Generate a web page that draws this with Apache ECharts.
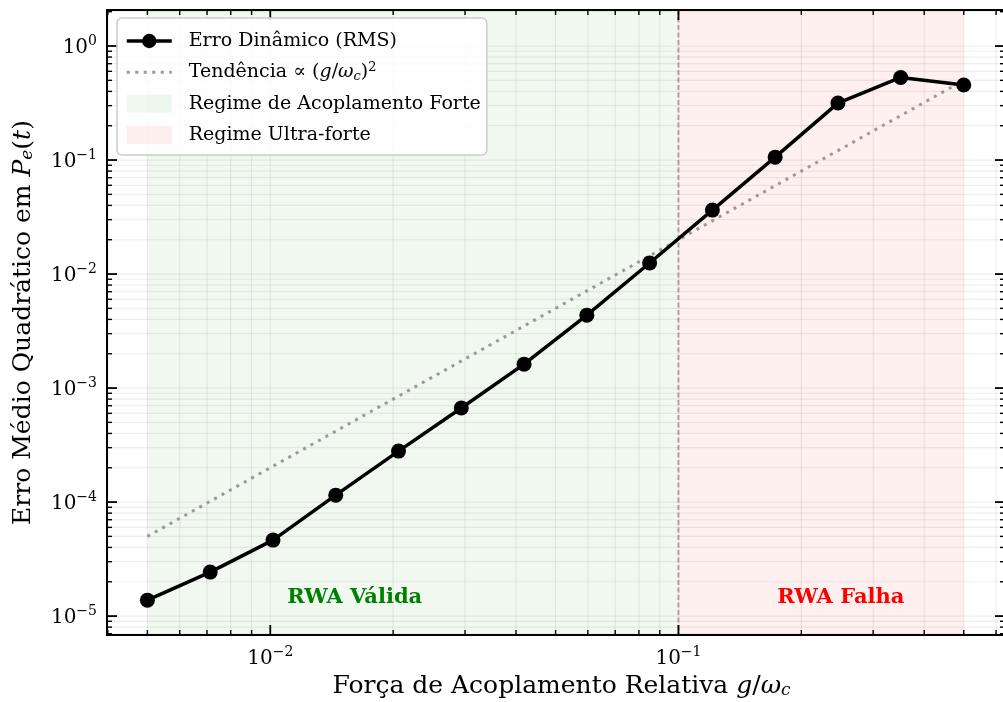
<!DOCTYPE html>
<html><head><meta charset="utf-8">
<script src="https://cdn.jsdelivr.net/npm/echarts@6/dist/echarts.min.js"></script>
<style>html,body{margin:0;padding:0;background:#fff}#c{width:1003px;height:702px}</style>
</head><body><div id="c"></div>
<script>
// ---- data ----
const couplingRatio = [0.005, 0.007126, 0.010155, 0.014468, 0.020616, 0.029375, 0.041857, 0.059642, 0.084984, 0.121093, 0.172546, 0.24586, 0.350325, 0.5];
const rmsError = [1.38e-5, 2.43e-5, 4.64e-5, 1.15e-4, 2.8e-4, 6.68e-4, 1.62e-3, 4.36e-3, 1.25e-2, 3.64e-2, 0.106, 0.316, 0.53, 0.455];
const trendX = [0.005, 0.5];
const trendY = [5e-5, 0.5];
const strongRegime = [0.005, 0.1];
const ultraRegime = [0.1, 0.5];
const annotationX = [0.0161, 0.25];
const annotationY = [1.44e-5, 1.44e-5];
const annotationText = ['RWA Válida', 'RWA Falha'];
const seriesNames = ['Erro Dinâmico (RMS)', 'Tendência ∝ (g/ωc)^2', 'Regime de Acoplamento Forte', 'Regime Ultra-forte'];

const X_MIN = Math.pow(10, -2.4), X_MAX = Math.pow(10, -0.2);
const Y_MIN = Math.pow(10, -5.166), Y_MAX = Math.pow(10, 0.316);
const F = 'DejaVu Serif';

function logTicks(lo, hi) {
  const out = [];
  for (let d = Math.floor(Math.log10(lo)); d <= Math.ceil(Math.log10(hi)); d++) {
    for (let k = 1; k <= 9; k++) {
      const v = k * Math.pow(10, d);
      if (v >= lo * 0.999999 && v <= hi * 1.000001) out.push({ v: v, major: k === 1 });
    }
  }
  return out;
}

function powLabel(v) {
  const e = Math.log10(v);
  const r = Math.round(e);
  if (Math.abs(e - r) > 1e-6) return '';
  return '{b|10}{s|' + (r < 0 ? '−' + (-r) : String(r)) + '}';
}
const labelRich = {
  b: { fontFamily: F, fontSize: 20, color: '#000', lineHeight: 24, verticalAlign: 'bottom' },
  s: { fontFamily: F, fontSize: 14, color: '#000', lineHeight: 16, verticalAlign: 'top' }
};

function renderDecor(params, api) {
  const children = [];
  const p0 = api.coord([X_MIN, Y_MIN]);
  const p1 = api.coord([X_MAX, Y_MAX]);
  const left = p0[0], bottom = p0[1], right = p1[0], top = p1[1];
  const grid = 'rgba(0,0,0,0.065)';
  logTicks(X_MIN, X_MAX).forEach(t => {
    const x = api.coord([t.v, Y_MIN])[0];
    children.push({ type: 'line', shape: { x1: x, y1: top, x2: x, y2: bottom }, style: { stroke: grid, lineWidth: 1.2 } });
  });
  logTicks(Y_MIN, Y_MAX).forEach(t => {
    const y = api.coord([X_MIN, t.v])[1];
    children.push({ type: 'line', shape: { x1: left, y1: y, x2: right, y2: y }, style: { stroke: grid, lineWidth: 1.2 } });
  });
  // boundary dashed line
  const bx = api.coord([ultraRegime[0], Y_MIN])[0];
  children.push({ type: 'line', shape: { x1: bx, y1: top, x2: bx, y2: bottom },
    style: { stroke: 'rgba(128,128,128,0.65)', lineWidth: 2, lineDash: [5, 2.5] } });
  // ticks
  logTicks(X_MIN, X_MAX).forEach(t => {
    const x = api.coord([t.v, Y_MIN])[0];
    const L = t.major ? 10 : 5, w = t.major ? 1.8 : 1.4;
    children.push({ type: 'line', shape: { x1: x, y1: bottom, x2: x, y2: bottom - L }, style: { stroke: '#000', lineWidth: w } });
    children.push({ type: 'line', shape: { x1: x, y1: top, x2: x, y2: top + L }, style: { stroke: '#000', lineWidth: w } });
  });
  logTicks(Y_MIN, Y_MAX).forEach(t => {
    const y = api.coord([X_MIN, t.v])[1];
    const L = t.major ? 10 : 5, w = t.major ? 1.8 : 1.4;
    children.push({ type: 'line', shape: { x1: left, y1: y, x2: left + L, y2: y }, style: { stroke: '#000', lineWidth: w } });
    children.push({ type: 'line', shape: { x1: right, y1: y, x2: right - L, y2: y }, style: { stroke: '#000', lineWidth: w } });
  });
  return { type: 'group', children: children };
}

function renderRegion(params, api) {
  const a = api.coord([api.value(0), Y_MAX]);
  const b = api.coord([api.value(1), Y_MIN]);
  return { type: 'rect', shape: { x: a[0], y: a[1], width: b[0] - a[0], height: b[1] - a[1] },
    style: { fill: api.visual('color') } };
}

const annotationColors = ['#008000', '#ff0000'];
function renderAnnotation(params, api) {
  const p = api.coord([api.value(0), api.value(1)]);
  return { type: 'text', x: p[0], y: p[1],
    style: { text: annotationText[params.dataIndex], fill: annotationColors[params.dataIndex],
      fontFamily: F, fontSize: 21, fontWeight: 'bold', align: 'center', verticalAlign: 'middle' } };
}

const legendRich = {
  n: { fontFamily: F, fontSize: 19, color: '#000' },
  i: { fontFamily: F, fontSize: 19, color: '#000', fontStyle: 'italic' },
  sub: { fontFamily: F, fontSize: 13, color: '#000', fontStyle: 'italic', verticalAlign: 'bottom', lineHeight: 14 },
  sup: { fontFamily: F, fontSize: 13, color: '#000', verticalAlign: 'top', lineHeight: 14 }
};
function legendFormatter(name) {
  if (name === seriesNames[1]) return '{n|Tendência ∝ (}{i|g}{n|/}{i|ω}{sub|c}{n|)}{sup|2}';
  return '{n|' + name + '}';
}

const nameRich = {
  n: { fontFamily: F, fontSize: 25, color: '#000' },
  i: { fontFamily: F, fontSize: 25, color: '#000', fontStyle: 'italic' },
  sub: { fontFamily: F, fontSize: 17, color: '#000', fontStyle: 'italic', verticalAlign: 'bottom' }
};

const chart = echarts.init(document.getElementById('c'), null, { renderer: 'canvas' });
chart.setOption({
  animation: false,
  backgroundColor: '#fff',
  grid: { left: 107, top: 10, width: 898, height: 625, show: true, borderColor: '#000', borderWidth: 2,
    backgroundColor: 'transparent', outerBoundsMode: 'none', containLabel: false },
  xAxis: {
    type: 'log', logBase: 10, min: X_MIN, max: X_MAX,
    axisLine: { show: true, lineStyle: { color: '#000', width: 2 } },
    axisTick: { show: false }, splitLine: { show: false }, minorTick: { show: false },
    axisLabel: { formatter: powLabel, rich: labelRich, margin: 10 },
    name: '{n|Força de Acoplamento Relativa }{i|g}{n|/}{i|ω}{sub|c}',
    nameLocation: 'middle', nameGap: 39,
    nameTextStyle: { rich: nameRich, padding: [0, 0, 0, 11] }
  },
  yAxis: {
    type: 'log', logBase: 10, min: Y_MIN, max: Y_MAX,
    axisLine: { show: true, lineStyle: { color: '#000', width: 2 } },
    axisTick: { show: false }, splitLine: { show: false }, minorTick: { show: false },
    axisLabel: { formatter: powLabel, rich: labelRich, margin: 10 },
    name: '{n|Erro Médio Quadrático em }{i|P}{sub|e}{n|(}{i|t}{n|)}',
    nameLocation: 'middle', nameGap: 71, nameRotate: 90,
    nameTextStyle: { rich: nameRich }
  },
  legend: {
    orient: 'vertical', left: 117, top: 18,
    padding: [12, 6, 9, 8], itemGap: 9.3, itemWidth: 45, itemHeight: 18,
    backgroundColor: 'rgba(255,255,255,0.85)', borderColor: '#cccccc', borderWidth: 1.5, borderRadius: 5,
    formatter: legendFormatter,
    textStyle: { fontFamily: F, fontSize: 19, color: '#000', lineHeight: 22, padding: [0, 0, 0, 12], rich: legendRich },
    data: [
      { name: seriesNames[0], lineStyle: { width: 3.5 } },
      { name: seriesNames[1], itemStyle: { opacity: 0 }, lineStyle: { width: 3 } },
      { name: seriesNames[2], icon: 'rect', itemStyle: { color: 'rgba(0,128,0,0.06)' } },
      { name: seriesNames[3], icon: 'rect', itemStyle: { color: 'rgba(255,0,0,0.06)' } }
    ]
  },
  series: [
    { type: 'custom', name: seriesNames[2], renderItem: renderRegion, data: [[strongRegime[0], strongRegime[1]]],
      itemStyle: { color: 'rgba(0,128,0,0.06)' }, z: 1, silent: true },
    { type: 'custom', name: seriesNames[3], renderItem: renderRegion, data: [[ultraRegime[0], ultraRegime[1]]],
      itemStyle: { color: 'rgba(255,0,0,0.06)' }, z: 1, silent: true },
    { type: 'custom', name: 'decor', renderItem: renderDecor, data: [[X_MIN, Y_MIN]], z: 2, silent: true, clip: false },
    { type: 'line', name: seriesNames[1], data: trendX.map((x, i) => [x, trendY[i]]), symbol: 'none',
      lineStyle: { color: '#999999', width: 3, type: [3, 5.5], cap: 'butt' }, itemStyle: { color: '#999999' }, z: 4 },
    { type: 'line', name: seriesNames[0], data: couplingRatio.map((x, i) => [x, rmsError[i]]),
      symbol: 'circle', symbolSize: 15, lineStyle: { color: '#000', width: 3.5 }, itemStyle: { color: '#000' }, z: 5 },
    { type: 'custom', name: 'annotations', renderItem: renderAnnotation,
      data: annotationX.map((x, i) => [x, annotationY[i]]), z: 6, silent: true }
  ]
});
</script>
</body></html>
